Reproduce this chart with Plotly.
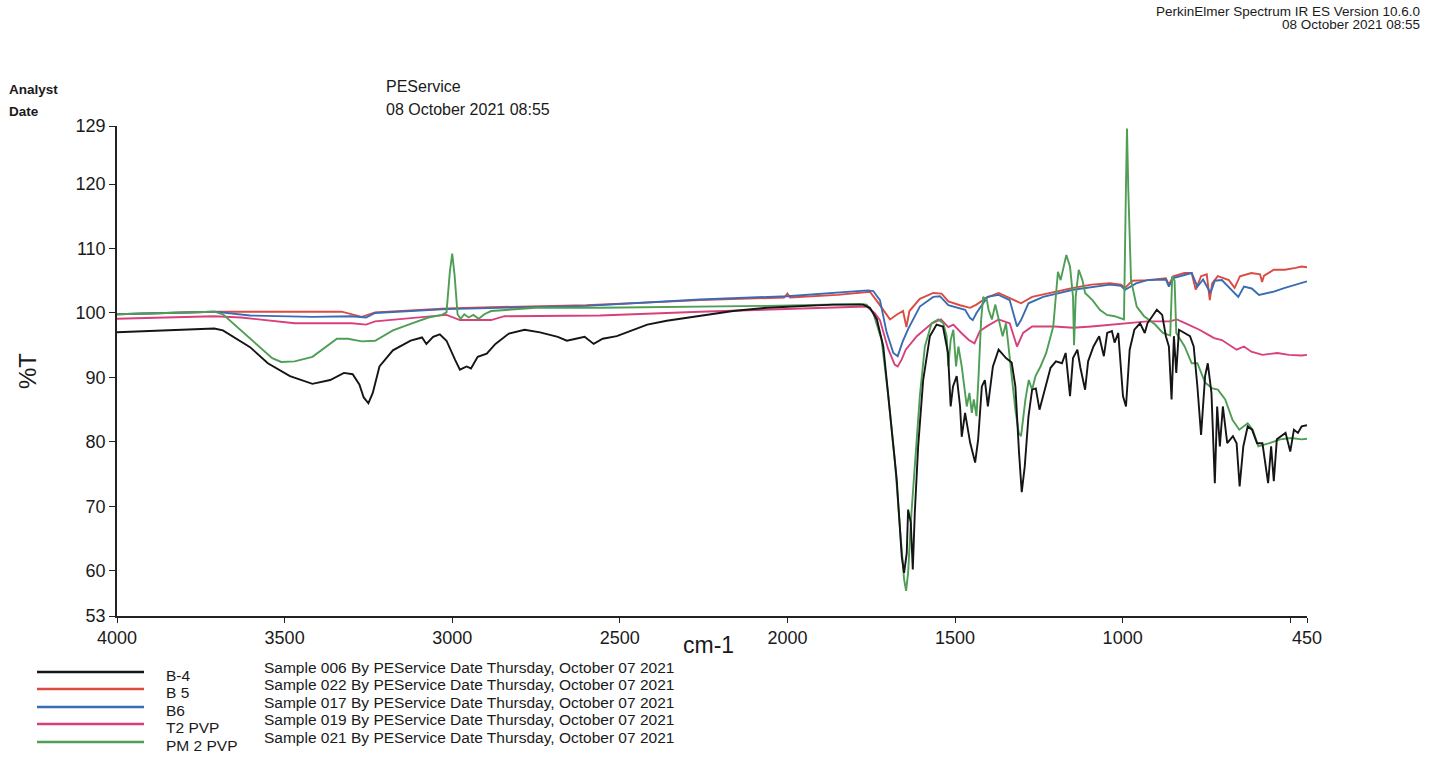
import plotly.graph_objects as go

# ---------------- data (wavenumber cm-1, %T) ----------------
series_names = ["B-4", "B 5", "B6", "T2 PVP", "PM 2 PVP"]
sample_texts = [
    "Sample 006 By PEService Date Thursday, October 07 2021",
    "Sample 022 By PEService Date Thursday, October 07 2021",
    "Sample 017 By PEService Date Thursday, October 07 2021",
    "Sample 019 By PEService Date Thursday, October 07 2021",
    "Sample 021 By PEService Date Thursday, October 07 2021",
]
series_colors = ["#151515", "#dc4a42", "#3a6cb4", "#d8407c", "#4f9e55"]

b4 = [[4000, 97.0], [3710, 97.6], [3684, 97.3], [3603, 94.7], [3550, 92.2], [3484, 90.2], [3417, 89.0],
      [3364, 89.6], [3323, 90.7], [3297, 90.5], [3277, 88.9], [3264, 86.9], [3250, 86.0], [3237, 87.6],
      [3217, 91.7], [3177, 94.2], [3124, 95.7], [3090, 96.2], [3077, 95.2], [3057, 96.3], [3037, 96.7],
      [3017, 95.7], [2991, 92.7], [2977, 91.2], [2957, 91.7], [2944, 91.4], [2924, 93.2], [2897, 93.7],
      [2871, 95.2], [2831, 96.8], [2784, 97.4], [2738, 97.0], [2685, 96.3], [2658, 95.7], [2631, 96.0],
      [2605, 96.3], [2578, 95.2], [2551, 96.0], [2509, 96.4], [2460, 97.4], [2418, 98.2], [2360, 98.8],
      [2261, 99.5], [2162, 100.3], [2062, 100.8], [1963, 101.1], [1864, 101.3], [1774, 101.3],
      [1754, 100.8], [1733, 99.0], [1714, 94.8], [1694, 84.5], [1674, 74.2], [1659, 62.3], [1652, 59.7],
      [1644, 62.8], [1640, 69.5], [1632, 67.5], [1626, 60.2], [1620, 69.0], [1610, 79.3], [1595, 89.6],
      [1575, 96.4], [1555, 98.2], [1536, 97.9], [1521, 93.8], [1513, 85.5], [1506, 88.6], [1495, 90.2],
      [1485, 85.5], [1480, 80.8], [1470, 84.5], [1455, 79.9], [1440, 76.8], [1431, 80.4], [1420, 88.6],
      [1411, 89.6], [1402, 85.5], [1387, 91.7], [1370, 94.3], [1348, 93.0], [1331, 92.3], [1320, 88.6],
      [1309, 78.3], [1301, 72.2], [1292, 76.2], [1281, 83.9], [1270, 88.1], [1259, 88.3], [1248, 85.0],
      [1232, 88.1], [1215, 91.5], [1199, 92.5], [1181, 92.2], [1170, 93.8], [1157, 87.1], [1148, 93.0],
      [1135, 94.3], [1126, 91.5], [1112, 88.1], [1103, 92.5], [1087, 94.8], [1070, 96.4], [1056, 93.3],
      [1046, 96.9], [1032, 97.2], [1024, 95.4], [1013, 96.9], [999, 87.1], [990, 85.5], [979, 94.3],
      [965, 97.4], [948, 98.4], [934, 96.9], [926, 98.4], [915, 99.2], [898, 100.5], [882, 99.7],
      [871, 96.4], [862, 94.8], [854, 86.6], [847, 96.4], [840, 90.7], [832, 97.4], [815, 96.9],
      [799, 96.4], [788, 94.8], [777, 88.6], [766, 81.1], [754, 90.2], [746, 92.2], [735, 87.6],
      [725, 73.6], [718, 85.5], [710, 79.3], [701, 85.5], [688, 79.8], [671, 80.9], [660, 79.8],
      [651, 73.1], [640, 79.3], [627, 82.4], [614, 81.9], [599, 79.8], [583, 79.8], [566, 73.6],
      [557, 79.3], [549, 73.9], [540, 80.4], [527, 80.9], [514, 81.4], [500, 78.5], [489, 81.9],
      [477, 81.4], [466, 82.4], [450, 82.6]]

b5 = [[4000, 99.8], [3710, 100.2], [3330, 100.2], [3270, 99.4], [3230, 100.1], [3017, 100.7],
      [2884, 100.9], [2600, 101.2], [2261, 102.0], [2010, 102.4], [2000, 103.0], [1992, 102.4],
      [1850, 102.8], [1775, 103.1], [1754, 103.3], [1735, 102.0], [1715, 100.5], [1694, 99.0],
      [1672, 99.8], [1655, 100.3], [1645, 97.8], [1636, 100.3], [1605, 102.2], [1565, 103.1],
      [1540, 103.0], [1520, 101.8], [1485, 101.2], [1455, 100.8], [1436, 101.3], [1406, 102.4],
      [1370, 103.1], [1326, 102.0], [1303, 101.5], [1270, 102.5], [1203, 103.3], [1148, 103.9],
      [1093, 104.4], [1038, 104.6], [1005, 104.4], [993, 103.9], [971, 105.0], [926, 105.1],
      [871, 105.4], [862, 104.4], [849, 105.7], [816, 106.2], [794, 106.2], [782, 103.6], [766, 105.7],
      [749, 106.0], [740, 102.0], [733, 104.6], [716, 105.7], [683, 105.1], [666, 103.9], [650, 105.7],
      [616, 106.2], [590, 106.0], [584, 104.8], [578, 105.8], [549, 106.7], [516, 106.7], [484, 107.0],
      [466, 107.2], [450, 107.1]]

b6 = [[4000, 99.8], [3710, 100.2], [3603, 99.6], [3417, 99.4], [3300, 99.5], [3257, 99.3],
      [3230, 100.0], [3017, 100.6], [2600, 101.1], [2261, 102.1], [2000, 102.6], [1850, 103.1],
      [1760, 103.5], [1744, 103.4], [1724, 102.0], [1704, 97.0], [1684, 93.8], [1671, 93.3],
      [1656, 95.6], [1640, 97.5], [1605, 101.0], [1565, 102.5], [1545, 102.6], [1520, 101.2],
      [1491, 100.8], [1470, 100.5], [1455, 99.2], [1447, 98.9], [1436, 100.0], [1403, 102.5],
      [1370, 102.8], [1337, 102.0], [1315, 97.9], [1303, 98.9], [1281, 101.5], [1237, 102.5],
      [1148, 103.6], [1038, 104.4], [1005, 104.2], [993, 103.6], [960, 104.6], [926, 105.1],
      [871, 105.2], [862, 104.1], [849, 105.4], [794, 106.2], [777, 104.1], [760, 105.2], [738, 103.1],
      [725, 105.0], [704, 105.1], [671, 103.3], [655, 102.5], [638, 104.1], [615, 103.8], [593, 102.8],
      [549, 103.3], [516, 103.9], [472, 104.6], [450, 104.9]]

t2pvp = [[4000, 99.1], [3710, 99.5], [3630, 99.3], [3470, 98.4], [3300, 98.4], [3257, 98.2],
         [3230, 98.7], [3071, 99.4], [3017, 99.7], [2977, 98.9], [2884, 98.9], [2844, 99.5],
         [2559, 99.6], [2261, 100.2], [2000, 100.6], [1864, 100.8], [1764, 101.0], [1740, 100.0],
         [1724, 98.9], [1700, 94.5], [1680, 92.0], [1671, 91.7], [1659, 92.8], [1647, 94.3],
         [1614, 96.4], [1569, 98.4], [1542, 99.0], [1520, 97.8], [1505, 98.2], [1481, 96.9],
         [1459, 95.8], [1442, 95.3], [1426, 97.2], [1403, 98.0], [1370, 99.0], [1337, 98.4],
         [1315, 94.8], [1297, 96.9], [1270, 97.9], [1203, 97.9], [1148, 97.7], [1093, 97.9],
         [1038, 98.2], [982, 98.4], [926, 98.7], [860, 98.7], [838, 99.0], [804, 98.2], [771, 97.4],
         [744, 96.6], [727, 96.1], [704, 95.8], [680, 95.0], [660, 94.3], [638, 94.8], [616, 94.0],
         [583, 93.5], [538, 93.8], [504, 93.5], [466, 93.4], [450, 93.5]]

pm2pvp = [[4000, 99.8], [3710, 100.2], [3684, 99.8], [3630, 97.3], [3577, 94.7], [3537, 93.0],
          [3510, 92.4], [3470, 92.5], [3417, 93.2], [3377, 94.7], [3344, 96.0], [3311, 96.0],
          [3270, 95.6], [3230, 95.7], [3177, 97.3], [3124, 98.3], [3071, 99.3], [3031, 99.7],
          [3017, 100.1], [3007, 106.4], [3000, 109.2], [2993, 105.9], [2984, 99.8], [2975, 99.1],
          [2964, 99.8], [2951, 99.3], [2937, 99.7], [2921, 99.1], [2904, 99.8], [2884, 100.3],
          [2751, 100.8], [2559, 100.8], [2062, 101.1], [1784, 101.4], [1764, 101.3], [1744, 100.0],
          [1719, 95.8], [1699, 87.1], [1679, 76.8], [1664, 66.4], [1652, 58.7], [1646, 56.9],
          [1640, 59.7], [1630, 69.0], [1620, 76.8], [1605, 87.1], [1590, 94.8], [1570, 98.4],
          [1550, 99.0], [1535, 98.4], [1525, 96.4], [1520, 91.7], [1513, 95.8], [1505, 97.4],
          [1497, 91.7], [1490, 94.8], [1480, 91.7], [1473, 88.6], [1465, 85.5], [1457, 87.6],
          [1450, 84.5], [1444, 86.6], [1436, 84.0], [1430, 90.0], [1422, 99.0], [1416, 102.5],
          [1405, 102.0], [1400, 100.5], [1390, 99.0], [1380, 101.3], [1370, 99.0], [1358, 96.4],
          [1348, 98.4], [1335, 92.0], [1320, 85.0], [1310, 81.4], [1303, 80.9], [1290, 86.6],
          [1280, 89.6], [1270, 88.1], [1260, 90.2], [1245, 91.7], [1228, 93.8], [1207, 97.9],
          [1200, 102.0], [1193, 106.4], [1185, 105.1], [1168, 109.0], [1157, 107.2], [1148, 102.5],
          [1145, 95.0], [1140, 102.5], [1131, 106.7], [1120, 105.1], [1112, 103.1], [1090, 102.0],
          [1068, 100.5], [1047, 99.7], [1024, 99.5], [996, 99.0], [990, 120.0], [987, 128.6],
          [983, 119.0], [975, 105.1], [958, 101.0], [936, 99.5], [903, 98.2], [880, 96.9], [858, 96.5],
          [852, 105.7], [845, 105.0], [840, 96.9], [815, 94.8], [794, 92.2], [777, 92.2], [754, 89.2],
          [732, 88.3], [716, 88.1], [694, 86.6], [672, 83.4], [652, 81.9], [627, 82.9], [612, 81.9],
          [595, 79.3], [562, 79.8], [530, 80.4], [497, 80.6], [466, 80.4], [450, 80.5]]

all_series = [b4, b5, b6, t2pvp, pm2pvp]

x_tickvals = [4000, 3500, 3000, 2500, 2000, 1500, 1000, 500, 450]
x_ticktext = ["4000", "3500", "3000", "2500", "2000", "1500", "1000", "", "450"]
y_tickvals = [53, 60, 70, 80, 90, 100, 110, 120, 129]

# ---------------- figure ----------------
W, H = 1429, 762
ML, MR, MT, MB = 117, 122, 126, 146
PW, PH = W - ML - MR, H - MT - MB

def px(x):
    return (x - ML) / PW

def py(y):
    return (H - MB - y) / PH

fig = go.Figure()
order = [1, 2, 3, 4, 0]
for i in order:
    pts = all_series[i]
    fig.add_trace(go.Scatter(
        x=[p[0] for p in pts], y=[p[1] for p in pts], mode="lines",
        name=series_names[i], line=dict(color=series_colors[i], width=1.9),
        showlegend=False, hoverinfo="x+y+name"))

font_family = "Liberation Sans, Arial, sans-serif"
annotations = []

def add_text(text, x, y, size, xanchor="left", bold=False, color="#1a1a1a"):
    annotations.append(dict(
        text=("<b>%s</b>" % text) if bold else text, x=px(x), y=py(y), xref="paper", yref="paper",
        xanchor=xanchor, yanchor="middle", showarrow=False,
        font=dict(family=font_family, size=size, color=color)))

add_text("Analyst", 7, 89, 13.5, bold=True)
add_text("Date", 7, 111, 13.5, bold=True)
add_text("PEService", 384, 87, 16)
add_text("08 October 2021 08:55", 384, 109, 16)
add_text("PerkinElmer Spectrum IR ES Version 10.6.0", 1422, 11, 13.5, xanchor="right")
add_text("08 October 2021 08:55", 1422, 25, 13.5, xanchor="right")

# x-axis unit label, placed like the printout (between tick labels and legend)
add_text("cm-1", 708, 645, 23, xanchor="center")

# legend block (custom, as in the printed report)
row_y = [672, 689, 707, 724, 742]
shapes = []
for i, name in enumerate(series_names):
    shapes.append(dict(type="line", xref="paper", yref="paper",
                       x0=px(37), x1=px(144), y0=py(row_y[i]), y1=py(row_y[i]),
                       line=dict(color=series_colors[i], width=2.4)))
    add_text(name, 164, row_y[i] + 3, 15.5)
    add_text(sample_texts[i], 262, row_y[i] - 5, 15.5)

fig.update_layout(
    width=W, height=H,
    margin=dict(l=ML, r=MR, t=MT, b=MB),
    paper_bgcolor="white", plot_bgcolor="white",
    font=dict(family=font_family, color="#1a1a1a"),
    annotations=annotations, shapes=shapes,
    xaxis=dict(range=[4000, 450], tickvals=x_tickvals, ticktext=x_ticktext,
               showline=True, linecolor="#222", linewidth=1.5, ticks="outside", ticklen=5,
               tickcolor="#222", showgrid=False, zeroline=False,
               tickfont=dict(size=18, family=font_family, color="#1a1a1a")),
    yaxis=dict(range=[53, 129], tickvals=y_tickvals,
               showline=True, linecolor="#222", linewidth=1.5, ticks="outside", ticklen=6,
               tickcolor="#222", showgrid=False, zeroline=False,
               tickfont=dict(size=18, family=font_family, color="#1a1a1a"),
               title=dict(text="%T", font=dict(size=24, family=font_family), standoff=32)),
)

fig.write_html("out.html")
